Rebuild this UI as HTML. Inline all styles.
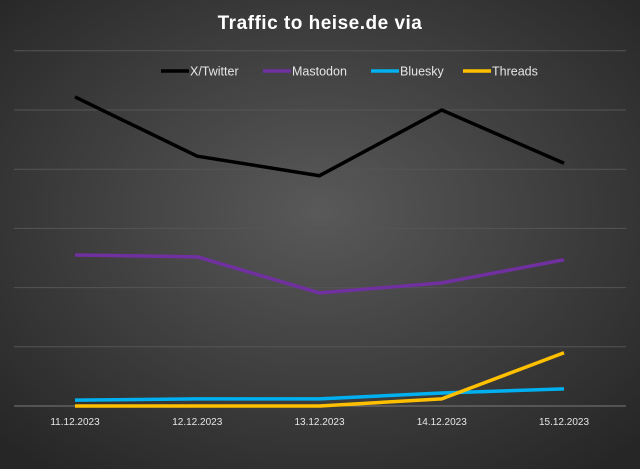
<!DOCTYPE html>
<html><head><meta charset="utf-8"><style>
html,body{margin:0;padding:0;width:640px;height:469px;overflow:hidden;background:#333}
svg{display:block}
text{font-family:"Liberation Sans",sans-serif}
</style></head><body>
<svg id="chart" width="640" height="469" viewBox="0 0 640 469">
<defs><radialGradient id="bg" cx="50%" cy="45%" r="70%"><stop offset="0" stop-color="#595959"/><stop offset="1" stop-color="#262626"/></radialGradient></defs>
<rect width="640" height="469" fill="url(#bg)"/>
<text x="320" y="29" text-anchor="middle" fill="#fff" font-size="19" font-weight="bold" letter-spacing="0.5">Traffic to heise.de via</text>
<g id="grid"></g><g id="xlabels"></g><g id="series"></g><g id="legend"></g>
</svg>
<script>
const categories=["11.12.2023","12.12.2023","13.12.2023","14.12.2023","15.12.2023"];
const seriesNames=["X/Twitter","Mastodon","Bluesky","Threads"];
const seriesColors=["#000000","#7030a0","#00b0f0","#ffc000"];
const twitter=[5.22,4.22,3.89,5.0,4.10];
const mastodon=[2.55,2.52,1.91,2.08,2.47];
const bluesky=[0.10,0.12,0.12,0.22,0.29];
const threads=[0,0,0,0.12,0.90];
const gridTicks=[0,1,2,3,4,5,6];
const ns="http://www.w3.org/2000/svg";
const left=14,right=626,base=406,unit=59.2;
const xs=i=>75+i*122.25, ys=v=>base-v*unit;
function mk(t,a,p){const e=document.createElementNS(ns,t);for(const k in a)e.setAttribute(k,a[k]);p.appendChild(e);return e;}
const g=document.getElementById('grid');
gridTicks.forEach(t=>{const l=mk('line',{x1:left,x2:right,y1:ys(t),y2:ys(t),stroke:t===0?'#7a7a7a':'#555','stroke-width':1},g);

});
const xl=document.getElementById('xlabels');
categories.forEach((c,i)=>{const t=mk('text',{x:xs(i),y:425,'text-anchor':'middle',fill:'#e6e6e6','font-size':10},xl);t.textContent=c;

});
const sg=document.getElementById('series');
[twitter,mastodon,bluesky,threads].forEach((d,k)=>{const p=mk('polyline',{points:d.map((v,i)=>xs(i)+','+ys(v)).join(' '),fill:'none',stroke:seriesColors[k],'stroke-width':3.5,'stroke-linejoin':'round'},sg);

});
const lg=document.getElementById('legend');
const lx=[161,263,371,463];
seriesNames.forEach((n,k)=>{const e=mk('g',{},lg);


mk('line',{x1:lx[k],x2:lx[k]+28,y1:71,y2:71,stroke:seriesColors[k],'stroke-width':3.5},e);
const t=mk('text',{x:lx[k]+29,y:75.5,fill:'#e6e6e6','font-size':12.5},e);t.textContent=n;});
</script>
</body></html>
